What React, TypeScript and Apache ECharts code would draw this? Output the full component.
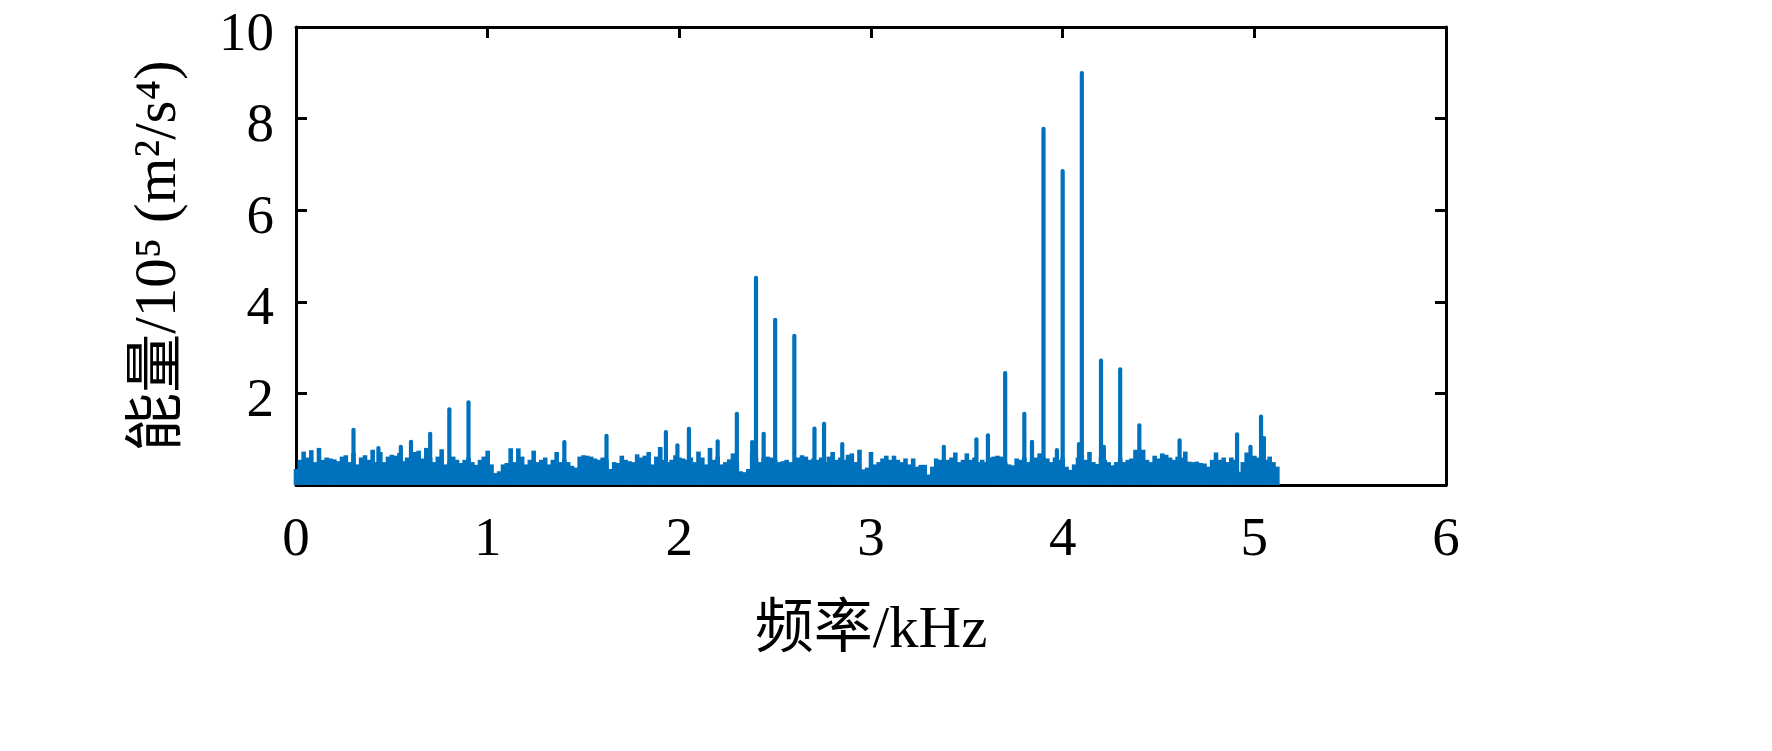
import React, { useEffect, useRef } from "react";
import * as echarts from "echarts";

// Frequency axis (kHz) and energy axis (10^5 m^2/s^4)
const xTickValues = [0, 1, 2, 3, 4, 5, 6];
const yTickValues = [0, 2, 4, 6, 8, 10];

// Dense noise floor, sampled every 0.02 kHz from 0 to 5.12 kHz
const noiseStepKHz = 0.02;
const noiseEnergy = [
  0.35, 0.55, 0.73, 0.6, 0.76,
  0.5, 0.81, 0.55, 0.6, 0.58,
  0.56, 0.52, 0.62, 0.65, 0.5,
  0.7, 0.45, 0.6, 0.65, 0.55,
  0.77, 0.5, 0.72, 0.5, 0.62,
  0.66, 0.64, 0.7, 0.52, 0.6,
  0.55, 0.72, 0.75, 0.58, 0.81,
  0.6, 0.5, 0.62, 0.78, 0.45,
  0.5, 0.62, 0.55, 0.48, 0.55,
  0.6, 0.5, 0.44, 0.55, 0.62,
  0.75, 0.45, 0.26, 0.3, 0.45,
  0.48, 0.8, 0.5, 0.8, 0.62,
  0.45, 0.55, 0.75, 0.5, 0.55,
  0.6, 0.45, 0.55, 0.72, 0.5,
  0.55, 0.5, 0.42, 0.38, 0.62,
  0.65, 0.64, 0.62, 0.58, 0.55,
  0.6, 0.55, 0.35, 0.5, 0.48,
  0.64, 0.55, 0.52, 0.5, 0.67,
  0.6, 0.64, 0.72, 0.45, 0.62,
  0.83, 0.55, 0.5, 0.55, 0.65,
  0.6, 0.58, 0.55, 0.6, 0.5,
  0.73, 0.6, 0.45, 0.81, 0.55,
  0.62, 0.45, 0.5, 0.56, 0.69,
  0.5, 0.3, 0.28, 0.35, 0.7,
  0.6, 0.5, 0.6, 0.62, 0.6,
  0.55, 0.5, 0.52, 0.55, 0.5,
  0.5, 0.6, 0.65, 0.62, 0.55,
  0.58, 0.55, 0.6, 0.5, 0.62,
  0.72, 0.55, 0.6, 0.55, 0.66,
  0.69, 0.5, 0.77, 0.34, 0.38,
  0.72, 0.45, 0.5, 0.58, 0.64,
  0.55, 0.64, 0.55, 0.5, 0.58,
  0.45, 0.58, 0.4, 0.44, 0.44,
  0.23, 0.4, 0.58, 0.55, 0.5,
  0.55, 0.6, 0.71, 0.5, 0.55,
  0.69, 0.55, 0.6, 0.5, 0.55,
  0.5, 0.6, 0.62, 0.64, 0.62,
  0.5, 0.45, 0.43, 0.58, 0.55,
  0.6, 0.5, 0.55, 0.6, 0.69,
  0.6, 0.58, 0.5, 0.6, 0.55,
  0.6, 0.4, 0.33, 0.45, 0.6,
  0.65, 0.55, 0.72, 0.5, 0.46,
  0.6, 0.55, 0.5, 0.43, 0.5,
  0.6, 0.5, 0.55, 0.58, 0.77,
  0.6, 0.77, 0.55, 0.5, 0.64,
  0.58, 0.69, 0.66, 0.6, 0.55,
  0.62, 0.6, 0.73, 0.51, 0.5,
  0.51, 0.48, 0.47, 0.4, 0.55,
  0.71, 0.55, 0.6, 0.5, 0.6,
  0.55, 0.29, 0.5, 0.71, 0.62,
  0.64, 0.6, 0.62, 0.55, 0.62,
  0.5, 0.4,
];

// Narrow spectral peaks
const peakFreqKHz = [
  0.3, 0.43, 0.547, 0.6, 0.7, 0.8, 0.9, 1.4, 1.62, 1.9, 1.93, 1.99, 2.05,
  2.2, 2.3, 2.38, 2.4, 2.44, 2.5, 2.6, 2.705, 2.755, 2.85, 3.38, 3.55, 3.61,
  3.7, 3.8, 3.84, 3.9, 3.97, 4.0, 4.085, 4.1, 4.2, 4.215, 4.3, 4.4, 4.61,
  4.91, 4.98, 5.035, 5.05,
];
const peakEnergy = [
  1.25, 0.85, 0.88, 0.99, 1.16, 1.7, 1.85, 0.98, 1.12, 0.83, 1.2, 0.91, 1.27,
  1.0, 1.6, 0.98, 4.57, 1.16, 3.65, 3.3, 1.28, 1.38, 0.94, 0.88, 1.04, 1.13,
  2.49, 1.6, 0.99, 7.82, 0.81, 6.9, 0.94, 9.04, 2.76, 0.88, 2.57, 1.35, 1.02,
  1.15, 0.88, 1.54, 1.07,
];

const BLUE = "#0072BD";
const SERIF = "'Liberation Serif', 'Times New Roman', 'Noto Sans CJK SC', serif";

export default function App() {
  const ref = useRef<HTMLDivElement>(null);

  useEffect(() => {
    if (!ref.current) return;
    const chart = echarts.init(ref.current, undefined, { renderer: "svg" });

    const noiseData = noiseEnergy.map((v, i) => [
      Number((i * noiseStepKHz).toFixed(2)),
      v,
    ]);
    const peakData = peakFreqKHz.map((f, i) => [f, peakEnergy[i]]);

    const axisLine = {
      show: true,
      onZero: false,
      lineStyle: { color: "#000", width: 3 },
    };
    const axisTick = {
      show: true,
      inside: true,
      length: 11,
      lineStyle: { color: "#000", width: 3 },
    };

    chart.setOption({
      animation: false,
      backgroundColor: "#fff",
      grid: { left: 296, top: 27, width: 1150, height: 458, containLabel: false },
      xAxis: [
        {
          type: "value",
          position: "bottom",
          min: xTickValues[0],
          max: xTickValues[xTickValues.length - 1],
          interval: 1,
          axisLine,
          axisTick,
          splitLine: { show: false },
          axisLabel: {
            color: "#000",
            fontFamily: SERIF,
            fontSize: 55,
            margin: 24,
          },
          name: "频率/kHz",
          nameLocation: "middle",
          nameGap: 112,
          nameTextStyle: { color: "#000", fontFamily: SERIF, fontSize: 59 },
        },
        {
          type: "value",
          position: "top",
          min: xTickValues[0],
          max: xTickValues[xTickValues.length - 1],
          interval: 1,
          axisLine,
          axisTick,
          splitLine: { show: false },
          axisLabel: { show: false },
        },
      ],
      yAxis: [
        {
          type: "value",
          position: "left",
          min: yTickValues[0],
          max: yTickValues[yTickValues.length - 1],
          interval: 2,
          axisLine,
          axisTick,
          splitLine: { show: false },
          axisLabel: {
            color: "#000",
            fontFamily: SERIF,
            fontSize: 55,
            lineHeight: 8,
            verticalAlign: "top",
            margin: 22,
            formatter: (v: number) => (v === 0 ? "" : String(v)),
          },
          name: "能量/10⁵ (m²/s⁴)",
          nameLocation: "middle",
          nameRotate: 90,
          nameGap: 112,
          nameTextStyle: { color: "#000", fontFamily: SERIF, fontSize: 59 },
        },
        {
          type: "value",
          position: "right",
          min: yTickValues[0],
          max: yTickValues[yTickValues.length - 1],
          interval: 2,
          axisLine,
          axisTick,
          splitLine: { show: false },
          axisLabel: { show: false },
        },
      ],
      series: [
        {
          type: "bar",
          xAxisIndex: 0,
          yAxisIndex: 0,
          data: noiseData,
          barWidth: 4.6,
          itemStyle: { color: BLUE },
          silent: true,
          z: 2,
        },
        {
          type: "bar",
          xAxisIndex: 1,
          yAxisIndex: 0,
          data: peakData,
          barWidth: 4.2,
          itemStyle: { color: BLUE, borderRadius: [2, 2, 0, 0] },
          silent: true,
          z: 3,
        },
      ],
    });

    return () => chart.dispose();
  }, []);

  return (
    <div
      ref={ref}
      style={{
        position: "absolute",
        left: 0,
        top: 0,
        width: 1772,
        height: 751,
        background: "#fff",
      }}
    />
  );
}
